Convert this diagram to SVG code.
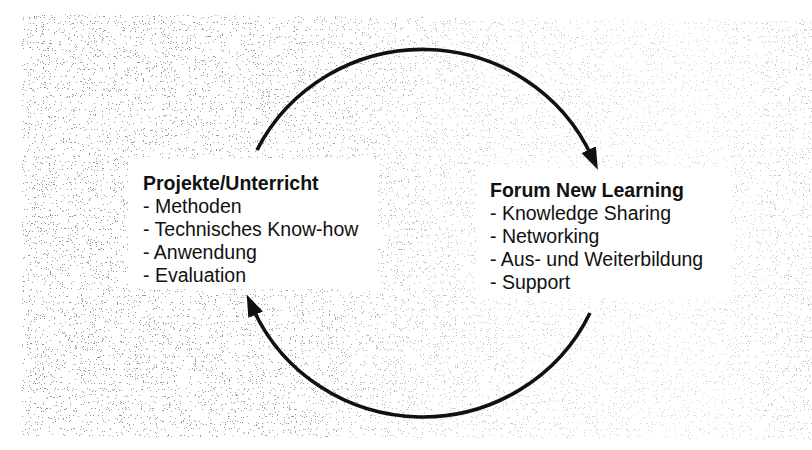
<svg xmlns="http://www.w3.org/2000/svg" width="812" height="450" viewBox="0 0 812 450">
  <style>
    .label { font-family: "Liberation Sans", Arial, sans-serif; font-size: 19.5px; fill: #111; }
    .title { font-weight: bold; }
    .box { fill: #ffffff; }
    .arc { fill: none; stroke: #111; stroke-width: 3.6; stroke-linecap: butt; }
  </style>
  <defs>
    <marker id="arrow" markerUnits="userSpaceOnUse" markerWidth="26" markerHeight="18" refX="8" refY="8" orient="auto">
      <path d="M0,0 L22,8 L0,16 Z" fill="#111"/>
    </marker>
    <linearGradient id="density" x1="0" y1="0" x2="1" y2="0">
      <stop offset="0" stop-color="#000" stop-opacity="1"/>
      <stop offset="0.35" stop-color="#000" stop-opacity="0.9"/>
      <stop offset="0.55" stop-color="#000" stop-opacity="0.55"/>
      <stop offset="0.85" stop-color="#000" stop-opacity="0.35"/>
      <stop offset="1" stop-color="#000" stop-opacity="0.6"/>
    </linearGradient>
    <filter id="stipple" filterUnits="userSpaceOnUse" x="0" y="0" width="812" height="450">
      <feTurbulence type="fractalNoise" baseFrequency="0.85" numOctaves="2" seed="11" result="noise"/>
      <feColorMatrix in="noise" type="matrix" values="0 0 0 0 0.25  0 0 0 0 0.25  0 0 0 0 0.25  1 0 0 0 0" result="a"/>
      <feComponentTransfer in="a" result="dots">
        <feFuncA type="discrete" tableValues="0 0 0 0 0 0 0 0.9 1 1"/>
      </feComponentTransfer>
      <feComposite in="dots" in2="SourceGraphic" operator="in"/>
    </filter>
  </defs>

  <rect width="812" height="450" fill="#ffffff"/>

  <g id="background">
    <path d="M22,14 L812,20 L812,440 L22,436 Z" fill="url(#density)" filter="url(#stipple)"/>
  </g>

  <g id="node-projekte">
    <rect class="box" x="128" y="159" width="250" height="130"/>
    <text class="label title" x="143" y="190">Projekte/Unterricht</text>
    <text class="label" x="143" y="213">- Methoden</text>
    <text class="label" x="143" y="236">- Technisches Know-how</text>
    <text class="label" x="143" y="259">- Anwendung</text>
    <text class="label" x="143" y="282">- Evaluation</text>
  </g>

  <g id="node-forum">
    <rect class="box" x="476" y="168" width="255" height="130"/>
    <text class="label title" x="490" y="197">Forum New Learning</text>
    <text class="label" x="490" y="220">- Knowledge Sharing</text>
    <text class="label" x="490" y="243">- Networking</text>
    <text class="label" x="490" y="266">- Aus- und Weiterbildung</text>
    <text class="label" x="490" y="289">- Support</text>
  </g>

  <g id="connectors">
    <path class="arc" d="M257,150 A186,184 0 0,1 592,157" marker-end="url(#arrow)"/>
    <path class="arc" d="M590,313 A186,184 0 0,1 252.4,307.4" marker-end="url(#arrow)"/>
  </g>
</svg>
